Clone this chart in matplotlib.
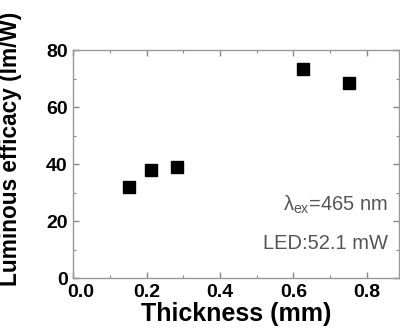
import numpy as np
import matplotlib
matplotlib.use('Agg')
import matplotlib.pyplot as plt
import matplotlib.transforms as mtransforms

plt.rcParams['font.family'] = ['Liberation Sans', 'DejaVu Sans']
plt.rcParams['mathtext.fontset'] = 'custom'
plt.rcParams['mathtext.rm'] = 'Liberation Sans'
plt.rcParams['mathtext.it'] = 'Liberation Sans'

# thickness (mm) vs luminous efficacy (lm/W)
thickness = [0.153, 0.212, 0.283, 0.625, 0.750]
efficacy = [31.8, 37.9, 39.1, 73.3, 68.5]

xticks = [0.0, 0.2, 0.4, 0.6, 0.8]
yticks = [0, 20, 40, 60, 80]

fig = plt.figure(figsize=(4.0, 3.29), dpi=100)
ax = fig.add_axes([0.183, 0.155, 0.814, 0.693])

ax.plot(thickness, efficacy, 's', color='black', markersize=8.6)

ax.set_xlim(0, 0.887)
ax.set_ylim(0, 80)
ax.set_xticks(xticks)
ax.set_yticks(yticks)
ax.set_xticks(np.arange(0.1, 0.9, 0.2), minor=True)
ax.set_yticks(np.arange(10, 80, 20), minor=True)
ax.set_xticklabels(['%.1f' % v for v in xticks], fontweight='bold', fontsize=14)
ax.set_yticklabels([str(v) for v in yticks], fontweight='bold', fontsize=14)

ax.tick_params(which='both', direction='in', top=True, right=True, color='#888888')
ax.tick_params(which='major', length=4, width=1)
ax.tick_params(which='minor', length=2.5, width=0.8)
ax.tick_params(axis='x', pad=4)
ax.tick_params(axis='y', pad=4)
for sp in ax.spines.values():
    sp.set_color('#999999')
    sp.set_linewidth(1.0)

# nudge the first x label right so it clears the "0" on the y axis
lbl0 = ax.get_xticklabels()[0]
lbl0.set_transform(lbl0.get_transform() +
                   mtransforms.ScaledTranslation(8 / 100, 0, fig.dpi_scale_trans))

ax.set_xlabel('Thickness (mm)', fontsize=18, fontweight='bold', labelpad=1)
ax.set_ylabel('Luminous efficacy (lm/W)', fontsize=16.3, fontweight='bold')
ax.yaxis.set_label_coords(-0.158, 0.565)

ax.text(0.967, 0.32, r'$\lambda_{ex}$=465 nm', transform=ax.transAxes,
        ha='right', va='center', fontsize=14.5, color='#555555')
ax.text(0.967, 0.153, 'LED:52.1 mW', transform=ax.transAxes,
        ha='right', va='center', fontsize=14.5, color='#555555')

fig.savefig('out.png', dpi=100)
